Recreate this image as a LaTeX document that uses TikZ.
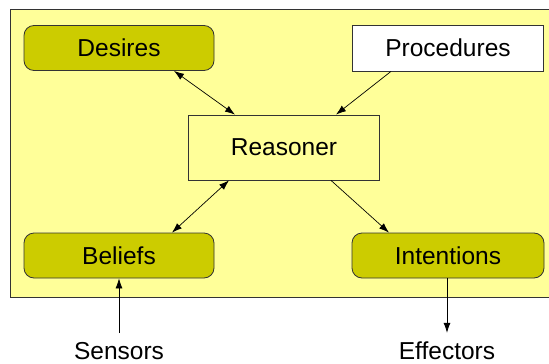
\documentclass[tikz,border=0pt]{standalone}
\usepackage{fontspec}
\setmainfont{Liberation Sans}
\usepackage{tikz}
\usetikzlibrary{arrows.meta}
\definecolor{paleyellow}{HTML}{FFFF99}
\definecolor{olivebox}{HTML}{CCCC00}
\definecolor{edge}{HTML}{333333}
\tikzset{
    attitude/.style={draw=edge, fill=olivebox, rounded corners=10pt, line width=0.8pt,
        minimum width=190pt, minimum height=45pt, font=\fontsize{24.5}{29}\selectfont},
    module/.style={draw=edge, line width=0.8pt,
        minimum width=191pt, font=\fontsize{24.5}{29}\selectfont},
    outside/.style={inner sep=9pt, font=\fontsize{24.5}{29}\selectfont},
    flow/.style={draw=black, line width=0.7pt, -{Latex[length=10pt,width=7pt]}},
    twoway/.style={draw=black, line width=0.7pt, {Latex[length=10pt,width=7pt]}-{Latex[length=10pt,width=7pt]}}
}
\begin{document}
\begin{tikzpicture}[x=1pt, y=-1pt]
\clip (0,0) rectangle (549,364);
\fill[white] (0,0) rectangle (549,364);
\draw[fill=paleyellow, draw=edge, line width=0.8pt] (10,9.5) rectangle (570,297);

\node[style={attitude}] (desires) at (119,48) {Desires};
\node[style={module}, fill=white, minimum height=46pt] (procedures) at (448,48) {Procedures};
\node[style={module}, fill=paleyellow, minimum height=65pt] (reasoner) at (284,147.5) {Reasoner};
\node[style={attitude}] (beliefs) at (119,255.5) {Beliefs};
\node[style={attitude}, minimum width=192pt] (intentions) at (448,255.5) {Intentions};
\node[style={outside}] (sensors) at (119,351) {Sensors};
\node[style={outside}] (effectors) at (447,351) {Effectors};

\draw[style={twoway}]
  ([xshift=55pt]desires.south) -- ([xshift=-49pt]reasoner.north);
\draw[style={flow}]
  ([xshift=-57pt]procedures.south) -- ([xshift=52pt]reasoner.north);
\draw[style={twoway}]
  ([xshift=-55pt]reasoner.south) -- ([xshift=53pt]beliefs.north);
\draw[style={flow}]
  ([xshift=47pt]reasoner.south) -- ([xshift=-59pt]intentions.north);
\draw[style={flow}]
  (sensors.north) -- (beliefs.south);
\draw[style={flow}]
  ([xshift=-1pt]intentions.south) -- (effectors.north);
\end{tikzpicture}
\end{document}
